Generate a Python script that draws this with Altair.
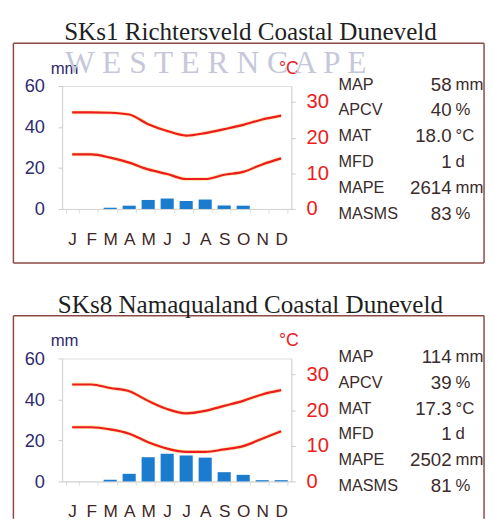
import altair as alt
import pandas as pd

# ---------------- data ----------------
months = ["Jan", "Feb", "Mar", "Apr", "May", "Jun", "Jul", "Aug", "Sep", "Oct", "Nov", "Dec"]

titles = ["SKs1 Richtersveld Coastal Duneveld", "SKs8 Namaqualand Coastal Duneveld"]

rain_top = [0, 0, 0.6, 1.6, 4.4, 5.1, 3.9, 4.6, 1.7, 1.6, 0, 0]
rain_bottom = [0, 0, 0.8, 3.7, 11.8, 13.5, 12.6, 11.6, 4.5, 3.2, 0.6, 0.6]

tmax_top = [27.1, 27.1, 27.0, 26.5, 23.8, 21.9, 20.6, 21.3, 22.4, 23.6, 25.1, 26.2]
tmin_top = [15.3, 15.3, 14.4, 13.0, 11.1, 9.8, 8.4, 8.4, 9.6, 10.4, 12.5, 14.2]
tmax_bottom = [27.2, 27.2, 26.2, 25.3, 22.6, 20.3, 19.1, 19.8, 21.2, 22.6, 24.4, 25.6]
tmin_bottom = [15.2, 15.2, 14.6, 13.4, 11.0, 9.2, 8.3, 8.3, 9.0, 9.9, 12.0, 14.1]

stat_names = ["MAP", "APCV", "MAT", "MFD", "MAPE", "MASMS"]
stat_units = ["mm", "%", "°C", "d", "mm", "%"]
stat_values_top = ["58", "40", "18.0", "1", "2614", "83"]
stat_values_bottom = ["114", "39", "17.3", "1", "2502", "81"]

mm_ticks = [0, 20, 40, 60]
temp_ticks = [0, 10, 20, 30]

# ---------------- style ----------------
W, H = 233, 125
NAVY = "#2f2b6e"
RED = "#ec1c22"
MONTHC = "#3e2723"
TXT = "#3a2c2c"
BOXC = "#8c4a44"
BAR = "#1b7bcf"
GRAY = "#d4d4d4"
FONT = "Liberation Sans"
TMAX_DOMAIN = 34.5


def panel(title, rain, tmax, tmin, stat_values, watermark, last):
    rain_df = pd.DataFrame({"month": months, "rain": rain})
    temp_df = pd.DataFrame({
        "month": months * 2,
        "temp": tmax + tmin,
        "series": ["max"] * 12 + ["min"] * 12,
    })
    stats_df = pd.DataFrame({
        "row": list(range(len(stat_names))),
        "name": stat_names,
        "value": stat_values,
        "unit": stat_units,
    })
    one = alt.Chart(pd.DataFrame({"k": [0]}))

    xenc = alt.X(
        "month:N", sort=months,
        scale=alt.Scale(paddingInner=0.31, paddingOuter=0.185),
        axis=alt.Axis(
            title=None, labelExpr="substring(datum.label, 0, 1)", labelAngle=0,
            labelFontSize=17.5, labelColor=MONTHC, labelFont=FONT, labelPadding=18,
            tickBand="extent", tickSize=4, tickColor="#dddddd",
            domainColor=GRAY, grid=False,
        ),
    )

    bars = alt.Chart(rain_df).mark_bar(color=BAR).encode(
        x=xenc,
        y=alt.Y(
            "rain:Q", scale=alt.Scale(domain=[0, 60], nice=False),
            axis=alt.Axis(
                orient="left", values=mm_ticks, title="mm", titleAngle=0,
                titleX=2, titleY=-13, titleAlign="center", titleBaseline="alphabetic",
                titleFontSize=17, titleColor=NAVY, titleFont=FONT, titleFontWeight="normal",
                labelFontSize=18.5, labelColor=NAVY, labelFont=FONT, labelPadding=14,
                tickSize=4, tickColor="#cccccc", domainColor=GRAY, grid=False,
            ),
        ),
    )

    halo = alt.Chart(temp_df).mark_line(
        color="#ffc83a", strokeWidth=3.8, opacity=0.45, interpolate="monotone"
    ).encode(
        x=xenc,
        y=alt.Y("temp:Q", scale=alt.Scale(domain=[0, TMAX_DOMAIN], nice=False), axis=None),
        detail="series:N",
    )
    lines = alt.Chart(temp_df).mark_line(
        color=RED, strokeWidth=2.2, interpolate="monotone"
    ).encode(
        x=xenc,
        y=alt.Y(
            "temp:Q", scale=alt.Scale(domain=[0, TMAX_DOMAIN], nice=False),
            axis=alt.Axis(
                orient="right", values=temp_ticks, title="°C", titleAngle=0,
                titleX=-3, titleY=-13, titleAlign="center", titleBaseline="alphabetic",
                titleFontSize=18, titleColor=RED, titleFont=FONT, titleFontWeight="normal",
                labelFontSize=20.5, labelColor=RED, labelFont=FONT, labelPadding=11,
                tickSize=4, tickColor="#cccccc", domainColor=GRAY, grid=False,
            ),
        ),
        detail="series:N",
    )

    row_y = alt.Y("row:O", scale=alt.Scale(type="point", range=[-1.3, 129.8], padding=0), axis=None)
    names = alt.Chart(stats_df).mark_text(
        align="left", baseline="middle", fontSize=16.5, font=FONT, color=TXT
    ).encode(x=alt.value(281), y=row_y, text="name:N")
    values = alt.Chart(stats_df).mark_text(
        align="right", baseline="middle", fontSize=19, font=FONT, color=TXT
    ).encode(x=alt.value(396), y=row_y, text="value:N")
    units = alt.Chart(stats_df).mark_text(
        align="left", baseline="middle", fontSize=17, font=FONT, color=TXT
    ).encode(x=alt.value(400), y=row_y, text="unit:N")

    # frame and title
    L, R, T = -49.5, 429, -43.4
    B = 180 if not last else 163
    frame = [
        one.mark_rule(color=BOXC, strokeWidth=1.5).encode(
            x=alt.value(L), x2=alt.value(R), y=alt.value(T)),
        one.mark_rule(color=BOXC, strokeWidth=1.5).encode(
            x=alt.value(L), y=alt.value(T), y2=alt.value(B)),
        one.mark_rule(color=BOXC, strokeWidth=1.5).encode(
            x=alt.value(R), y=alt.value(T), y2=alt.value(B)),
    ]
    if not last:
        frame.append(one.mark_rule(color=BOXC, strokeWidth=1.5).encode(
            x=alt.value(L), x2=alt.value(R), y=alt.value(B)))
    # invisible anchors fixing the panel's outer extent
    frame.append(one.mark_rule(strokeOpacity=0).encode(
        x=alt.value(-54), x2=alt.value(430), y=alt.value(-73.7)))
    if not last:
        frame.append(one.mark_rule(strokeOpacity=0).encode(
            x=alt.value(-54), x2=alt.value(430), y=alt.value(182)))

    layers = []
    if watermark:
        layers.append(one.mark_text(
            align="left", baseline="alphabetic", fontSize=32,
            font="Liberation Serif", color="#c6c8da",
        ).encode(x=alt.value(3), y=alt.value(-13.7),
                 text=alt.value("W E S T E R N   C A P E")))
    layers += frame
    layers.append(one.mark_text(
        align="center", baseline="alphabetic", fontSize=25.5,
        font="Liberation Serif", color="#1f1f1f",
    ).encode(x=alt.value(191.5), y=alt.value(-46.7), text=alt.value(title)))
    layers += [bars, halo, lines, names, values, units]

    return alt.layer(*layers).resolve_scale(y="independent").properties(width=W, height=H)


top = panel(titles[0], rain_top, tmax_top, tmin_top, stat_values_top, True, False)
bottom = panel(titles[1], rain_bottom, tmax_bottom, tmin_bottom, stat_values_bottom, False, True)

chart = alt.vconcat(top, bottom, spacing=19).properties(padding=0).configure_view(
    strokeWidth=0
).configure(font=FONT)

chart.save("out.html", embed_options={"renderer": "svg", "actions": False})
